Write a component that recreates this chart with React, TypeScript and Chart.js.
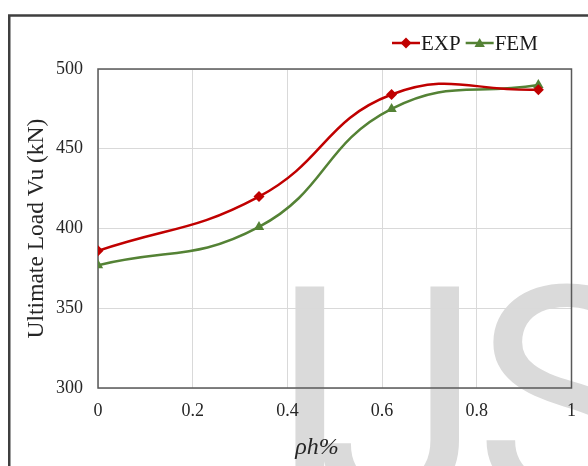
import { useEffect, useRef } from 'react';
import { Chart, registerables } from 'chart.js';

Chart.register(...registerables);

// Reinforcement ratio (x) and ultimate loads for the two series
const rhoValues = [0, 0.34, 0.62, 0.93];
const expLoads = [386, 420, 484, 487];
const femLoads = [377, 401, 475, 490];

const seriesNames = ['EXP', 'FEM'];
const seriesColors = ['#c00000', '#548235'];
const seriesMarkers = ['rectRot', 'triangle'];

const xTickValues = [0, 0.2, 0.4, 0.6, 0.8, 1];
const yTickValues = [300, 350, 400, 450, 500];

const yAxisTitle = 'Ultimate Load Vu (kN)';
const xAxisTitle = 'ρh%';
const watermarkText = 'IJS';

const SERIF = '"Liberation Serif", "Times New Roman", serif';

function markerPath(ctx: CanvasRenderingContext2D, style: string, x: number, y: number, r: number) {
  ctx.beginPath();
  if (style === 'rectRot') {
    ctx.moveTo(x, y - r);
    ctx.lineTo(x + r, y);
    ctx.lineTo(x, y + r);
    ctx.lineTo(x - r, y);
  } else {
    for (let k = 0; k < 3; k++) {
      const a = -Math.PI / 2 + (k * 2 * Math.PI) / 3;
      const px = x + Math.cos(a) * r;
      const py = y + Math.sin(a) * r;
      if (k === 0) ctx.moveTo(px, py);
      else ctx.lineTo(px, py);
    }
  }
  ctx.closePath();
}

// Page decoration: outer frame, faded lettering, plot box, legend and x caption
const decorPlugin = {
  id: 'decor',
  beforeDraw(chart: any) {
    const ctx = chart.ctx as CanvasRenderingContext2D;
    ctx.save();
    ctx.fillStyle = '#ffffff';
    ctx.fillRect(0, 0, chart.width, chart.height);
    ctx.fillStyle = '#dadada';
    ctx.font = '305px Roboto, "Liberation Sans", sans-serif';
    ctx.textBaseline = 'alphabetic';
    ctx.textAlign = 'left';
    const [cI, cJ, cS] = watermarkText.split('');
    const mI = ctx.measureText(cI);
    const mJ = ctx.measureText(cJ);
    const mS = ctx.measureText(cS);
    const baseline = 284 + mI.actualBoundingBoxAscent;
    ctx.fillText(cI, 292 + mI.actualBoundingBoxLeft, baseline);
    ctx.fillText(cJ, 462 - mJ.actualBoundingBoxRight, baseline);
    ctx.fillText(cS, 484 + mS.actualBoundingBoxLeft, baseline);
    ctx.restore();
  },
  beforeDatasetsDraw(chart: any) {
    const ctx = chart.ctx as CanvasRenderingContext2D;
    const a = chart.chartArea;
    ctx.save();
    ctx.strokeStyle = '#595959';
    ctx.lineWidth = 1.5;
    ctx.strokeRect(a.left, a.top, a.right - a.left, a.bottom - a.top);
    ctx.restore();
  },
  afterDraw(chart: any) {
    const ctx = chart.ctx as CanvasRenderingContext2D;
    ctx.save();
    // outer frame
    ctx.strokeStyle = '#3f3f3f';
    ctx.lineWidth = 2.5;
    ctx.strokeRect(9.25, 15.5, 700, 700);

    // legend
    ctx.font = `21px ${SERIF}`;
    ctx.textBaseline = 'middle';
    ctx.textAlign = 'left';
    let x = 392;
    const y = 43;
    chart.data.datasets.forEach((ds: any, i: number) => {
      ctx.strokeStyle = seriesColors[i];
      ctx.fillStyle = seriesColors[i];
      ctx.lineWidth = 2.5;
      ctx.beginPath();
      ctx.moveTo(x, y);
      ctx.lineTo(x + 28, y);
      ctx.stroke();
      markerPath(ctx, seriesMarkers[i], x + 14, y + (i === 1 ? 1 : 0), i === 1 ? 6 : 5.5);
      ctx.fill();
      ctx.fillStyle = '#1a1a1a';
      ctx.fillText(ds.label, x + 29, y + 1);
      x += 29 + ctx.measureText(ds.label).width + 5;
    });

    // x-axis caption
    ctx.font = `italic 24px ${SERIF}`;
    ctx.textAlign = 'center';
    ctx.fillStyle = '#262626';
    ctx.fillText(xAxisTitle, 317, 448);
    ctx.restore();
  },
};

export default function App() {
  const canvasRef = useRef<HTMLCanvasElement | null>(null);

  useEffect(() => {
    const canvas = canvasRef.current;
    if (!canvas) return;
    const datasets = [expLoads, femLoads].map((loads, i) => ({
      label: seriesNames[i],
      data: rhoValues.map((x, j) => ({ x, y: loads[j] })),
      borderColor: seriesColors[i],
      backgroundColor: seriesColors[i],
      borderWidth: 2.5,
      pointStyle: seriesMarkers[i],
      pointRadius: i === 1 ? 6 : 5.5,
      pointBorderWidth: 0,
      tension: 0.45,
    }));

    const chart = new Chart(canvas, {
      type: 'line',
      data: { datasets },
      plugins: [decorPlugin],
      options: {
        responsive: false,
        animation: false,
        devicePixelRatio: 1,
        layout: { padding: { top: 69, right: 16, left: 0, bottom: 0 } },
        plugins: {
          legend: { display: false },
          tooltip: { enabled: false },
        },
        scales: {
          x: {
            type: 'linear',
            min: 0,
            max: 1,
            afterBuildTicks: (scale: any) => {
              scale.ticks = xTickValues.map((v) => ({ value: v }));
            },
            afterFit: (scale: any) => {
              scale.height = 78;
            },
            grid: { color: '#d9d9d9', lineWidth: 1, drawTicks: false },
            border: { display: false },
            ticks: {
              padding: 12,
              color: '#262626',
              font: { family: SERIF, size: 18 },
              maxRotation: 0,
              callback: (v: any) => String(v),
            },
          },
          y: {
            type: 'linear',
            min: 300,
            max: 500,
            afterBuildTicks: (scale: any) => {
              scale.ticks = yTickValues.map((v) => ({ value: v }));
            },
            afterFit: (scale: any) => {
              scale.width = 98;
            },
            grid: { color: '#d9d9d9', lineWidth: 1, drawTicks: false },
            border: { display: false },
            ticks: {
              padding: 15,
              color: '#262626',
              font: { family: SERIF, size: 18 },
              callback: (v: any) => String(v),
            },
            title: {
              display: true,
              text: yAxisTitle,
              color: '#262626',
              font: { family: SERIF, size: 23.5 },
              padding: { top: 23, bottom: 0 },
            },
          },
        },
      },
    } as any);
    return () => chart.destroy();
  }, []);

  return (
    <div style={{ position: 'absolute', left: 0, top: 0, width: 588, height: 466, overflow: 'hidden' }}>
      <canvas ref={canvasRef} width={588} height={466} style={{ display: 'block', width: 588, height: 466 }} />
    </div>
  );
}
